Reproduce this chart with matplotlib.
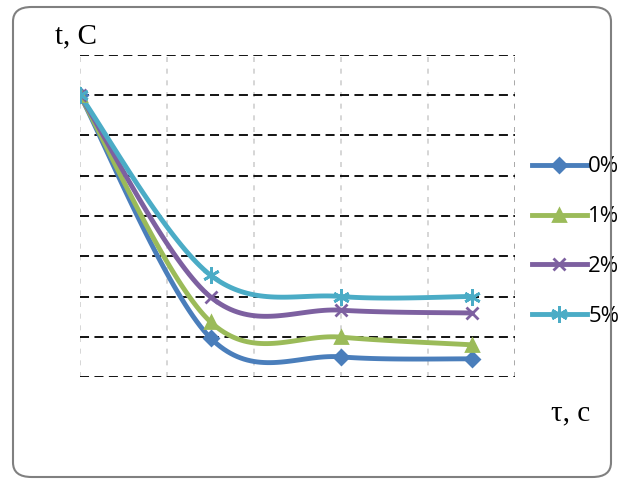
import numpy as np
import matplotlib
matplotlib.use("Agg")
import matplotlib.pyplot as plt
from matplotlib.patches import FancyBboxPatch

# data
tau = [0, 1.5, 3, 4.5]
labels = ['0%', '1%', '2%', '5%']
t_0 = [70, 9.7, 5.0, 4.5]
t_1 = [70, 13.7, 9.9, 8.0]
t_2 = [70, 19.9, 16.6, 15.9]
t_5 = [70, 25.3, 20.0, 20.0]
series = [t_0, t_1, t_2, t_5]

colors = ['#4a7ebb', '#9bbb59', '#7d60a0', '#4bacc6']
markers = ['D', '^', 'x', (6, 2, 0)]
msizes = [7, 9, 9, 12]


def smooth(xs, ys, sx, sy, n=40):
    # excel style smoothed line: bezier segments with catmull-rom tangents
    px = np.asarray(xs, float) * sx
    py = np.asarray(ys, float) * sy
    P = np.column_stack([px, py])
    P = np.vstack([P[0], P, P[-1]])
    out = []
    t = np.linspace(0, 1, n)[:, None]
    for i in range(1, len(P) - 2):
        p0, p3 = P[i], P[i + 1]
        p1 = p0 + (P[i + 1] - P[i - 1]) / 6
        p2 = p3 - (P[i + 2] - P[i]) / 6
        seg = (1 - t)**3 * p0 + 3 * (1 - t)**2 * t * p1 + 3 * (1 - t) * t**2 * p2 + t**3 * p3
        out.append(seg)
    out = np.vstack(out)
    return out[:, 0] / sx, out[:, 1] / sy


W, H = 619, 483
fig = plt.figure(figsize=(W / 100, H / 100), dpi=100)

# rounded frame round the chart
frame = FancyBboxPatch((13 / W, 6 / H), 598 / W, 470 / H,
                       boxstyle="round,pad=0,rounding_size=0.03",
                       transform=fig.transFigure, fill=False,
                       edgecolor='#808080', lw=1.5)
fig.patches.append(frame)

ax = fig.add_axes([80 / W, 1 - 377 / H, 435 / W, 322 / H])
ax.set_xlim(0, 5)
ax.set_ylim(0, 80)

for y in range(0, 90, 10):
    ax.axhline(y, color='black', lw=1.3, ls=(0, (5, 3)), zorder=1)
for x in range(0, 6):
    ax.axvline(x, color='#999999' if x == 5 else '#d0d0d0', lw=1.2,
               ls=(0, (3, 4)), zorder=0)

sx, sy = 435 / 5, 322 / 80
for ys, c, m, ms, lab in zip(series, colors, markers, msizes, labels):
    xs_s, ys_s = smooth(tau, ys, sx, sy)
    ax.plot(xs_s, ys_s, color=c, lw=3.5, solid_capstyle='round', zorder=3)
    ax.plot(tau, ys, ls='none', marker=m, ms=ms, color=c, mec=c, mew=2, zorder=4)
    ax.plot([], [], color=c, lw=3.5, marker=m, ms=ms, mec=c, mew=2, label=lab)

for s in ax.spines.values():
    s.set_visible(False)
ax.set_xticks([])
ax.set_yticks([])

leg = ax.legend(loc='center left', bbox_to_anchor=(1.0, 0.42), frameon=False,
                prop={'family': 'Open Sans', 'size': 16}, handlelength=2.5,
                handletextpad=0.05, labelspacing=1.3, borderaxespad=0.35)

fig.text(55 / W, 1 - 36 / H, 't, C', family='Liberation Serif', fontsize=21,
         va='center', ha='left')
fig.text(551 / W, 1 - 413 / H, 'τ, c', family='Liberation Serif', fontsize=21,
         va='center', ha='left')

fig.savefig('out.png', dpi=100)
